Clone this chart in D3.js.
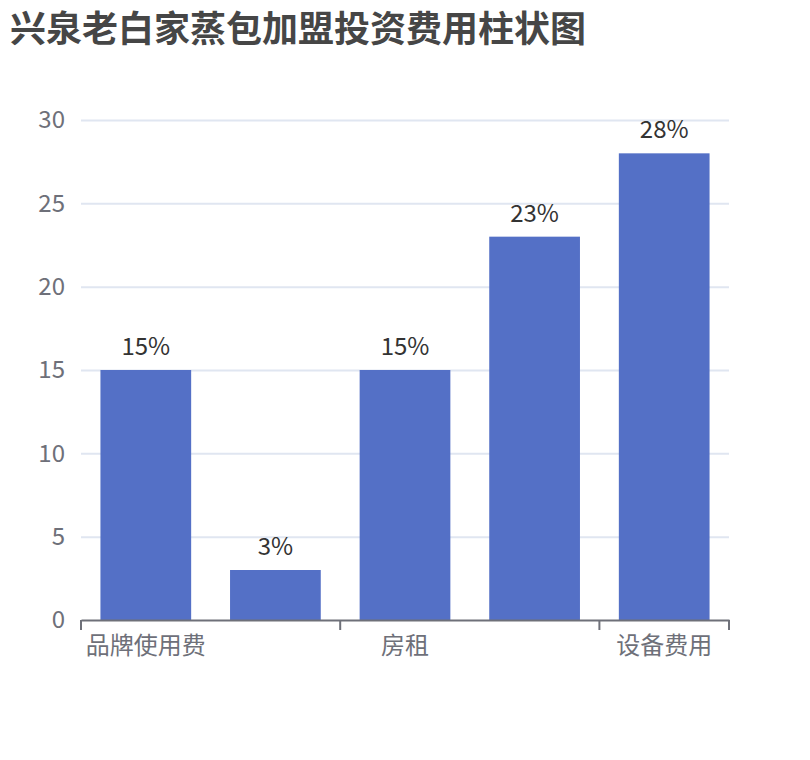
<!DOCTYPE html>
<html>
<head>
<meta charset="utf-8">
<script src="https://cdn.jsdelivr.net/npm/d3@7"></script>
<style>
  body { margin: 0; background: #fff; }
  svg text { font-family: "Noto Sans CJK SC", "Noto Sans", sans-serif; }
</style>
</head>
<body>
<div id="chart"></div>
<script>
const title = "兴泉老白家蒸包加盟投资费用柱状图";
const categories = ["品牌使用费", "加盟费", "房租", "装修费", "设备费用"];
const values = [15, 3, 15, 23, 28];
const yTicks = [0, 5, 10, 15, 20, 25, 30];

const width = 810, height = 760;
const margin = { top: 120, right: 81, bottom: 140, left: 81 };
const plotW = width - margin.left - margin.right;
const plotH = height - margin.top - margin.bottom;

const svg = d3.select("#chart").append("svg").attr("width", width).attr("height", height);

svg.append("text")
  .attr("x", 10).attr("y", 42)
  .attr("font-size", 36).attr("font-weight", "bold").attr("fill", "#464646")
  .text(title);

const g = svg.append("g").attr("transform", `translate(${margin.left},${margin.top})`);

const x = d3.scaleBand().domain(categories).range([0, plotW]).padding(0);
const y = d3.scaleLinear().domain([0, 30]).range([plotH, 0]);

// grid + y labels
const yAxis = g.append("g").call(d3.axisLeft(y).tickValues(yTicks).tickSize(-plotW).tickPadding(16));
yAxis.select(".domain").remove();
yAxis.selectAll(".tick line").attr("stroke", "#e0e6f1").attr("stroke-width", 2)
  .attr("display", d => d === 0 ? "none" : null);
yAxis.selectAll(".tick text").attr("font-size", 24).attr("fill", "#6e7079");

// bars
const barW = x.bandwidth() * 0.7;
g.selectAll("rect.bar")
  .data(values)
  .join("rect")
  .attr("class", "bar")
  .attr("x", (d, i) => x(categories[i]) + (x.bandwidth() - barW) / 2)
  .attr("y", d => y(d))
  .attr("width", barW)
  .attr("height", d => y(0) - y(d))
  .attr("fill", "#5470c6");

g.selectAll("text.val")
  .data(values)
  .join("text")
  .attr("class", "val")
  .attr("x", (d, i) => x(categories[i]) + x.bandwidth() / 2)
  .attr("y", d => y(d) - 15)
  .attr("text-anchor", "middle")
  .attr("font-size", 24).attr("fill", "#333")
  .text(d => d + "%");

// x axis (labels every other category, like auto interval)
const shown = categories.filter((c, i) => i % 2 === 0);
const xAxis = g.append("g").attr("transform", `translate(0,${plotH})`)
  .call(d3.axisBottom(x).tickValues(shown).tickSize(0).tickPadding(17));
xAxis.select(".domain").attr("stroke", "#6e7079").attr("stroke-width", 2);
xAxis.selectAll(".tick text").attr("font-size", 24).attr("fill", "#6e7079");

const tickPos = shown.map(c => x(c)).concat([plotW]);
xAxis.selectAll("line.bt")
  .data(tickPos)
  .join("line")
  .attr("class", "bt")
  .attr("x1", d => d).attr("x2", d => d)
  .attr("y1", 0).attr("y2", 10)
  .attr("stroke", "#6e7079").attr("stroke-width", 2);
</script>
</body>
</html>
